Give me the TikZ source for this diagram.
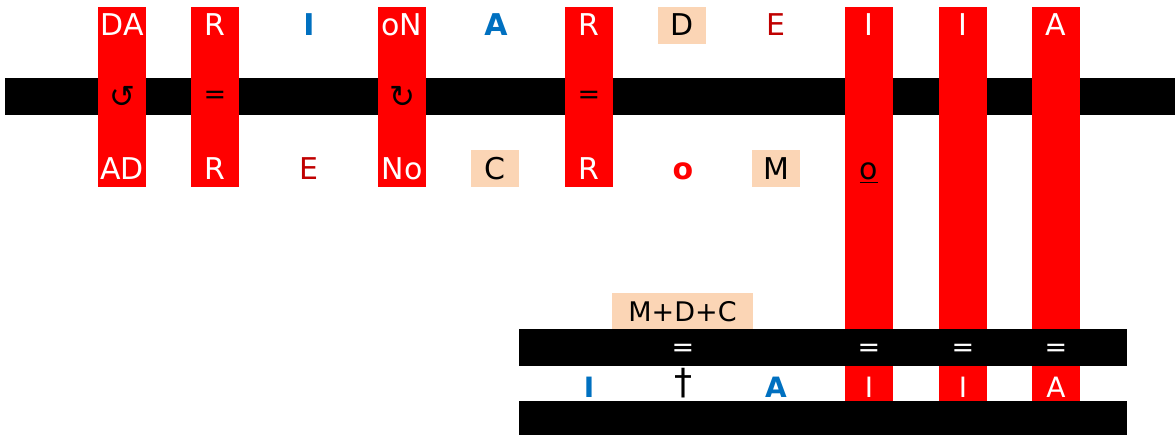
\documentclass[tikz,border=0pt]{standalone}
\usepackage{fontspec}
\setmainfont{DejaVu Sans}
\definecolor{peach}{HTML}{FBD5B5}
\definecolor{dred}{HTML}{C00000}
\definecolor{blu}{HTML}{0070C0}
\begin{document}
\begin{tikzpicture}[x=1pt,y=-1pt,
  lbl/.style={font=\fontsize{30}{30}\selectfont, anchor=base, inner sep=0pt},
  wl/.style={lbl, text=white},
  rl/.style={lbl, text=dred},
  bl/.style={lbl, text=blu, font=\fontsize{30}{30}\selectfont\bfseries},
  kl/.style={lbl, text=black},
  sym/.style={font=\fontsize{27}{27}\selectfont, anchor=center, inner sep=0pt},
  arr/.style={sym, font=\fontsize{31}{31}\selectfont},
  small/.style={font=\fontsize{28}{28}\selectfont},
  smallb/.style={font=\fontsize{28}{28}\selectfont\bfseries},
  bar/.style={fill=red},
  band/.style={fill=black},
  pbox/.style={fill=peach}]
\useasboundingbox (0,0) rectangle (1175,435);
% bands
\fill[band] (5,78) rectangle (1175,115);
\fill[band] (519,329) rectangle (1127,366);
\fill[band] (519,401) rectangle (1127,435);
% red columns
\foreach \x in {98,191,378,565}{\fill[bar] (\x,7) rectangle ++(48,180);}
\foreach \x in {845,939,1032}{\fill[bar] (\x,7) rectangle (\x+48,329);
  \fill[bar] (\x,366) rectangle (\x+48,401);}
% peach boxes
\fill[pbox] (658,7) rectangle (706,44);
\fill[pbox] (471,150) rectangle (519,187);
\fill[pbox] (752,150) rectangle (800,187);
\fill[pbox] (612,293) rectangle (753,329);
% top row
\node[wl] (t1) at (122,36) {DA};
\node[wl] (t2) at (215,36) {R};
\node[bl] (t3) at (309,36) {I};
\node[wl] (t4) at (402,36) {oN};
\node[bl] (t5) at (496,36) {A};
\node[wl] (t6) at (589,36) {R};
\node[kl] (t7) at (682,36) {D};
\node[rl] (t8) at (776,36) {E};
\node[wl] (t9) at (869,36) {I};
\node[wl] (t10) at (963,36) {I};
\node[wl] (t11) at (1056,36) {A};
% middle row
\node[arr] (m1) at (122,97) {↺};
\node[sym] (m2) at (215,97) {=};
\node[arr] (m4) at (402,97) {↻};
\node[sym] (m6) at (589,97) {=};
% bottom row
\node[wl] (b1) at (122,180) {AD};
\node[wl] (b2) at (215,180) {R};
\node[rl] (b3) at (309,180) {E};
\node[wl] (b4) at (402,180) {No};
\node[kl] (b5) at (495,180) {C};
\node[wl] (b6) at (589,180) {R};
\node[lbl, text=red, font=\fontsize{30}{30}\selectfont\bfseries] (b7) at (683,180) {o};
\node[kl] (b8) at (776,180) {M};
\node[kl] (b9) at (869,180) {\underline{o}};
% lower section
\node[kl, font=\fontsize{27}{27}\selectfont] (sum) at (682.5,322) {M+D+C};
\node[sym, text=white] (e7) at (683,350) {=};
\node[sym, text=white] (e9) at (869,350) {=};
\node[sym, text=white] (e10) at (963,350) {=};
\node[sym, text=white] (e11) at (1056,350) {=};
\node[bl, smallb] (l6) at (589,397) {I};
\node[kl, font=\fontsize{36}{36}\selectfont] (l7) at (683,395) {†};
\node[bl, smallb] (l8) at (776,397) {A};
\node[wl, small] (l9) at (869,397) {I};
\node[wl, small] (l10) at (963,397) {I};
\node[wl, small] (l11) at (1056,397) {A};
\end{tikzpicture}
\end{document}
